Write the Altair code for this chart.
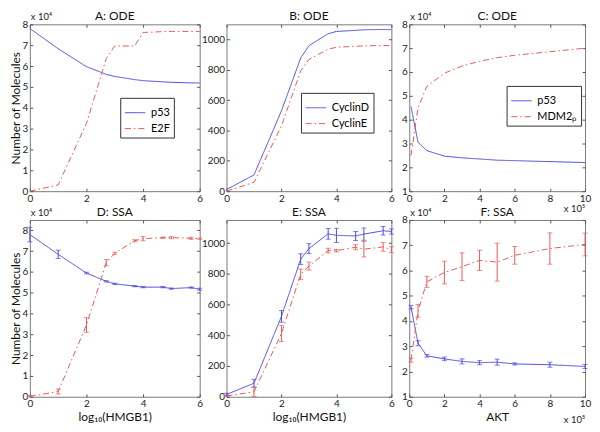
import altair as alt
import pandas as pd

FONT = "Lato"
BLUE = "#4a4adc"
RED = "#e85a5a"
SOLID = [1, 0]
DASHDOT = [6, 3, 1.5, 3]

# ---------------- data ----------------
hmgb1_x = [0, 1, 2, 2.7, 3, 3.7, 4, 4.7, 5, 5.7, 6]          # log10(HMGB1)
akt_x = [0.1, 0.5, 1, 2, 3, 4, 5, 6, 8, 10]                 # AKT (x 10^5)

# A: ODE (x 10^4)
a_p53 = [7.8, 6.83, 5.97, 5.6, 5.5, 5.35, 5.3, 5.24, 5.22, 5.19, 5.19]
a_e2f = [0.0, 0.3, 3.25, 6.36, 6.96, 6.96, 7.61, 7.65, 7.66, 7.66, 7.66]
# B: ODE
b_cycd = [11, 107, 530, 878, 959, 1038, 1053, 1060, 1064, 1066, 1065]
b_cyce = [0, 58, 430, 793, 868, 936, 949, 955, 958, 960, 960]
# C: ODE (x 10^4)
c_p53 = [4.55, 3.05, 2.7, 2.47, 2.4, 2.35, 2.3, 2.28, 2.24, 2.2]
c_mdm2 = [2.5, 4.5, 5.4, 5.95, 6.25, 6.45, 6.6, 6.7, 6.85, 7.0]
# D: SSA (x 10^4)
d_p53 = [7.8, 6.85, 5.95, 5.55, 5.43, 5.32, 5.27, 5.27, 5.2, 5.25, 5.17]
d_p53_err = [0.35, 0.2, 0.04, 0.03, 0.03, 0.03, 0.03, 0.03, 0.03, 0.03, 0.05]
d_e2f = [0.02, 0.25, 3.45, 6.45, 6.9, 7.5, 7.6, 7.65, 7.65, 7.62, 7.6]
d_e2f_err = [0.03, 0.12, 0.35, 0.15, 0.05, 0.05, 0.1, 0.03, 0.05, 0.05, 0.03]
# E: SSA
e_cycd = [15, 88, 523, 895, 964, 1060, 1050, 1046, 1058, 1080, 1075]
e_cycd_err = [8, 25, 38, 35, 32, 35, 46, 29, 40, 28, 17]
e_cyce = [5, 32, 412, 797, 850, 951, 950, 973, 960, 975, 957]
e_cyce_err = [5, 30, 53, 34, 26, 15, 8, 16, 50, 28, 19]
# F: SSA (x 10^4)
f_p53 = [4.55, 3.12, 2.62, 2.5, 2.4, 2.35, 2.37, 2.3, 2.27, 2.2]
f_p53_err = [0.07, 0.1, 0.05, 0.07, 0.1, 0.08, 0.12, 0.04, 0.1, 0.08]
f_mdm2 = [2.45, 4.4, 5.55, 5.92, 6.15, 6.4, 6.33, 6.6, 6.87, 7.03]
f_mdm2_err = [0.08, 0.25, 0.22, 0.45, 0.55, 0.4, 0.75, 0.35, 0.62, 0.45]

hmgb_ticks = [0, 2, 4, 6]
akt_ticks = [0, 2, 4, 6, 8, 10]
e4_ticks = [0, 1, 2, 3, 4, 5, 6, 7, 8]
c_ticks = [1, 2, 3, 4, 5, 6, 7, 8]
cyc_ticks = [0, 200, 400, 600, 800, 1000]

W1, W2, W3 = 171, 166, 177
H1, G, H2 = 168, 29, 178
GAP1, GAP2 = 27, 18


def panel(series, x_dom, x_ticks, y_dom, y_ticks, w, h, title,
          x_title=None, y_title=None, legend_xy=None, notes=()):
    names = [s[0] for s in series]
    rows = []
    for name, xs, ys, errs in series:
        for i, (xv, yv) in enumerate(zip(xs, ys)):
            e = errs[i] if errs else 0
            rows.append({"s": name, "x": xv, "y": yv, "lo": yv - e, "hi": yv + e,
                         "has": 1 if errs else 0})
    df = pd.DataFrame(rows)
    xs_ = alt.Scale(domain=x_dom, nice=False, zero=False)
    ys_ = alt.Scale(domain=y_dom, nice=False, zero=False)
    cs = alt.Scale(domain=names, range=[BLUE, RED])
    ds = alt.Scale(domain=names, range=[SOLID, DASHDOT])

    xkw = dict(values=x_ticks, offset=-3, tickSize=3, domain=False, grid=False,
               labelFlush=False, labelOverlap=False, labelPadding=2, titlePadding=3,
               format="d")
    ykw = dict(values=y_ticks, offset=-3, tickSize=3, domain=False, grid=False,
               labelFlush=False, labelOverlap=False, labelPadding=2, titlePadding=0,
               format="d")
    xkw["title"] = x_title if x_title else None
    ykw["title"] = y_title if y_title else None

    if legend_xy:
        leg = alt.Legend(orient="none", legendX=legend_xy[0], legendY=legend_xy[1],
                         title=None, symbolType="stroke", symbolSize=420,
                         symbolStrokeWidth=1, strokeColor="#333", fillColor="white",
                         padding=4, labelFontSize=11, labelFont=FONT, rowPadding=0,
                         labelOffset=5, labelColor="black")
        color = alt.Color("s:N", scale=cs, legend=leg)
        dash = alt.StrokeDash("s:N", scale=ds, legend=leg)
    else:
        color = alt.Color("s:N", scale=cs, legend=None)
        dash = alt.StrokeDash("s:N", scale=ds, legend=None)

    base = alt.Chart(df)
    lines = base.mark_line(strokeWidth=1).encode(
        x=alt.X("x:Q", scale=xs_, axis=alt.Axis(**xkw)),
        y=alt.Y("y:Q", scale=ys_, axis=alt.Axis(**ykw)),
        color=color, strokeDash=dash,
    )
    ghost = base.mark_point(opacity=0).encode(
        x=alt.X("x:Q", scale=xs_, axis=alt.Axis(orient="top", values=x_ticks, offset=-3,
                                                 tickSize=3, labels=False, domain=False,
                                                 grid=False, title=None)),
        y=alt.Y("y:Q", scale=ys_, axis=alt.Axis(orient="right", values=y_ticks, offset=-3,
                                                 tickSize=3, labels=False, domain=False,
                                                 grid=False, title=None)),
    )
    layers = [lines]
    if df["has"].sum() > 0:
        eb = base.transform_filter("datum.has == 1")
        ccol = alt.Color("s:N", scale=cs, legend=None)
        rules = eb.mark_rule(strokeWidth=1).encode(
            x=alt.X("x:Q", scale=xs_, axis=None),
            y=alt.Y("lo:Q", scale=ys_, axis=None), y2="hi:Q", color=ccol)
        cap_lo = eb.mark_tick(orient="horizontal", size=5, thickness=1).encode(
            x=alt.X("x:Q", scale=xs_, axis=None),
            y=alt.Y("lo:Q", scale=ys_, axis=None), color=ccol)
        cap_hi = eb.mark_tick(orient="horizontal", size=5, thickness=1).encode(
            x=alt.X("x:Q", scale=xs_, axis=None),
            y=alt.Y("hi:Q", scale=ys_, axis=None), color=ccol)
        layers += [rules, cap_lo, cap_hi]
    layers.append(ghost)
    # panel title as text, level with the exponent note
    layers.append(alt.Chart(pd.DataFrame({"t": [title]})).mark_text(
        align="center", baseline="bottom", fontSize=12, font=FONT, color="#111").encode(
        text="t:N", x=alt.value(w / 2), y=alt.value(-1)))
    for txt, pos in notes:
        tdf = pd.DataFrame({"t": [txt]})
        if pos == "top":
            layers.append(alt.Chart(tdf).mark_text(align="left", baseline="bottom",
                                                   fontSize=9.5, font=FONT, color="#222").encode(
                text="t:N", x=alt.value(1), y=alt.value(-2)))
        else:
            layers.append(alt.Chart(tdf).mark_text(align="right", baseline="top",
                                                   fontSize=9.5, font=FONT, color="#222").encode(
                text="t:N", x=alt.value(w), y=alt.value(pos)))
    return alt.layer(*layers).resolve_axis(x="independent", y="independent").properties(
        width=w, height=h)


def spacer(w, h):
    return alt.Chart(pd.DataFrame({"v": [0]})).mark_point(opacity=0).encode(
        x=alt.X("v:Q", axis=None), y=alt.Y("v:Q", axis=None)
    ).properties(width=w, height=h, view=alt.ViewBackground(stroke="transparent"))


YT = "Number of Molecules"
XT = "log₁₀(HMGB1)"

A = panel([("p53", hmgb1_x, a_p53, None), ("E2F", hmgb1_x, a_e2f, None)],
          [0, 6], hmgb_ticks, [0, 8], e4_ticks, W1, H1, "A: ODE",
          y_title=YT, legend_xy=[91, 74], notes=[("x 10⁴", "top")])
B = panel([("CyclinD", hmgb1_x, b_cycd, None), ("CyclinE", hmgb1_x, b_cyce, None)],
          [0, 6], hmgb_ticks, [0, 1100], cyc_ticks, W2, H1, "B: ODE",
          legend_xy=[75, 69])
C = panel([("p53", akt_x, c_p53, None), ("MDM2ₚ", akt_x, c_mdm2, None)],
          [0, 10], akt_ticks, [1, 8], c_ticks, W3, H1, "C: ODE",
          legend_xy=[98, 62], notes=[("x 10⁴", "top"), ("x 10⁵", H1 + 13)])
D = panel([("p53", hmgb1_x, d_p53, d_p53_err), ("E2F", hmgb1_x, d_e2f, d_e2f_err)],
          [0, 6], hmgb_ticks, [0, 8.5], e4_ticks, W1, H2, "D: SSA",
          x_title=XT, y_title=YT, notes=[("x 10⁴", "top")])
E = panel([("CyclinD", hmgb1_x, e_cycd, e_cycd_err), ("CyclinE", hmgb1_x, e_cyce, e_cyce_err)],
          [0, 6], hmgb_ticks, [0, 1150], cyc_ticks, W2, H2, "E: SSA", x_title=XT)
F = panel([("p53", akt_x, f_p53, f_p53_err), ("MDM2ₚ", akt_x, f_mdm2, f_mdm2_err)],
          [0, 10], akt_ticks, [1, 8], c_ticks, W3, H2, "F: SSA", x_title="AKT",
          notes=[("x 10⁴", "top"), ("x 10⁵", H2 + 18)])

cells = [A, spacer(GAP1, H1), B, spacer(GAP2, H1), C,
         spacer(W1, G), spacer(GAP1, G), spacer(W2, G), spacer(GAP2, G), spacer(W3, G),
         D, spacer(GAP1, H2), E, spacer(GAP2, H2), F]

chart = alt.concat(*cells, columns=5, spacing=0, bounds="flush", align="each",
                   padding=0).resolve_scale(
    color="independent", strokeDash="independent"
).resolve_legend(color="independent", strokeDash="independent").configure_view(
    stroke="#7a7a7a", strokeWidth=1
).configure_axis(
    labelFont=FONT, titleFont=FONT, labelFontSize=10, titleFontSize=12,
    labelColor="#222", titleColor="#111", titleFontWeight="normal",
    tickColor="#555", grid=False
).configure_legend(labelFont=FONT)

chart.save("out.html", embed_options={"renderer": "svg", "actions": False})
